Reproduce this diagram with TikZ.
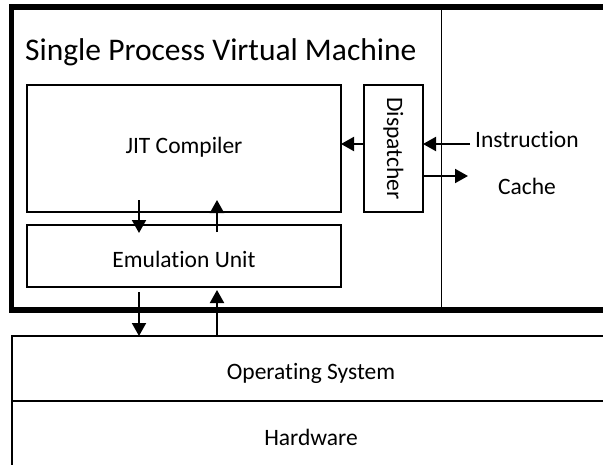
\documentclass[tikz,border=0pt]{standalone}
\usepackage{fontspec}
\setmainfont{Carlito}[Ligatures=NoCommon]
\usepackage{tikz}
\usetikzlibrary{arrows.meta, positioning}

\begin{document}
\begin{tikzpicture}[
    x=1pt, y=-1pt,
    node distance=13pt,
    box/.style={rectangle, draw, line width=2pt, inner sep=0pt, outer sep=0pt, align=center, font=\fontsize{23.5}{28}\selectfont},
    frame/.style={rectangle, draw, line width=5.5pt, inner sep=0pt, outer sep=0pt},
    lbl/.style={inner sep=0pt, font=\fontsize{23.5}{28}\selectfont},
    arrow/.style={-{Triangle[length=13pt, width=14pt]}, line width=2pt}
]
    \useasboundingbox (0,0) rectangle (603,464);
    \clip (0,0) rectangle (603,464);

    \coordinate (divx) at (441.5,0);
    \coordinate (rowA) at (0,144);
    \coordinate (rowB) at (0,176);
    \coordinate (colL) at (139,0);
    \coordinate (colR) at (217,0);

    \node[frame, minimum width=613.5pt, minimum height=303pt] (vm) at (318.25,158.5) {};
    \draw[line width=1.5pt] (vm.north -| divx) -- (vm.south -| divx);
    \node[anchor=base west, inner sep=0pt, font=\fontsize{31.5}{36}\selectfont] (title) at (25,60) {Single Process Virtual Machine};

    \node[box, minimum width=314pt, minimum height=127pt, text height=10pt, text depth=0pt] (jit) at (184,148.5) {JIT Compiler};
    \node[box, minimum width=59pt, minimum height=127pt, right=23pt of jit] (disp) {\rotatebox{-90}{Dispatcher}};
    \node[box, minimum width=314pt, minimum height=62pt, text height=22pt, text depth=0pt, below=of jit] (emu) {Emulation Unit};
    \node[box, minimum width=598pt, minimum height=65pt, text height=22pt, text depth=0pt] (os) at (311,368.5) {Operating System};
    \node[box, minimum width=598pt, minimum height=66pt, text height=22pt, text depth=0pt, below=0pt of os] (hw) {Hardware};

    \node[lbl, inner xsep=5pt, anchor=base west] (instr) at (470,147) {Instruction};
    \node[lbl, anchor=base] (cache) at ([yshift=-47pt]instr.base) {Cache};

    \draw[arrow] (disp.west |- rowA) -- (jit.east |- rowA);
    \draw[arrow] (instr.west |- rowA) -- (disp.east |- rowA);
    \draw[arrow, shorten >=2pt] (disp.east |- rowB) -- (instr.west |- rowB);
    \draw[arrow, shorten <=-12pt, shorten >=-8pt] (jit.south -| colL) -- (emu.north -| colL);
    \draw[arrow, shorten <=-7pt, shorten >=-12pt] (emu.north -| colR) -- (jit.south -| colR);
    \draw[arrow, shorten <=5pt] (emu.south -| colL) -- (os.north -| colL);
    \draw[arrow, shorten >=3pt] (os.north -| colR) -- (emu.south -| colR);
\end{tikzpicture}
\end{document}
